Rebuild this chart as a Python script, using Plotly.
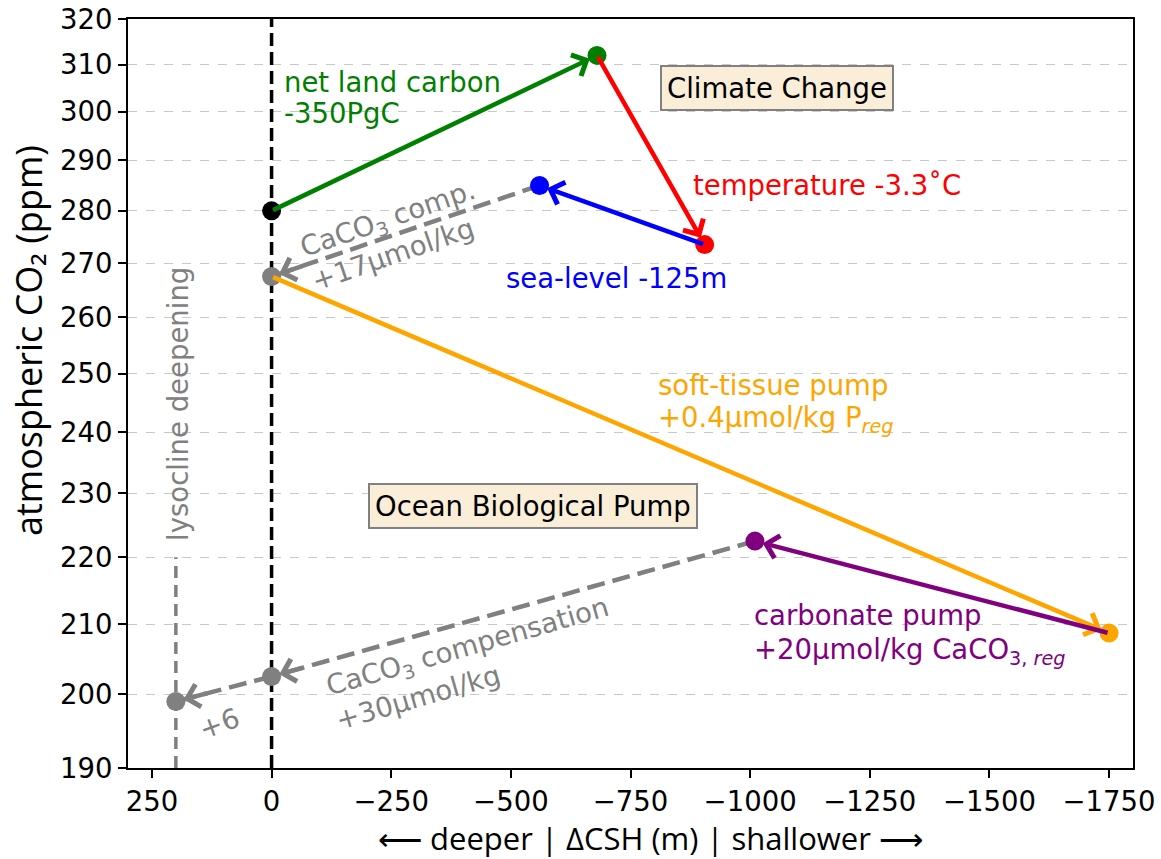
import numpy as np
import plotly.graph_objects as go

# ---------------- data ----------------
pt_x = [0, -680, -905, -560, 0, -1750, -1010, 0, 200]
pt_y = [280, 312, 273.5, 285, 267.5, 208.7, 222.5, 202.5, 199]
pt_colors = ["black", "green", "red", "blue", "gray", "orange", "purple", "gray", "gray"]

arrow_from = [0, 1, 2, 3, 4, 5, 6, 7]
arrow_to = [1, 2, 3, 4, 5, 6, 7, 8]
arrow_colors = ["green", "red", "blue", "gray", "orange", "purple", "gray", "gray"]
arrow_dashed = [False, False, False, True, False, False, True, True]

lyso_x = [200, 200]
lyso_y = [190, 220]
zero_x = [0, 0]
zero_y = [190, 320]

x_ticks = [250, 0, -250, -500, -750, -1000, -1250, -1500, -1750]
x_ticktext = ["250", "0", "−250", "−500", "−750", "−1000", "−1250", "−1500", "−1750"]
y_ticks = [190, 200, 210, 220, 230, 240, 250, 260, 270, 280, 290, 300, 310, 320]
x_range = [300, -1800]
y_range = [190, 320]

# ---------------- layout constants ----------------
W, H = 1161, 859
ML, MR, MT, MB = 128, 28, 19, 91
PW, PH = W - ML - MR, H - MT - MB
FONT = "DejaVu Sans"
LABEL_FONT = "Open Sans"
FS = 27.5

fig = go.Figure()

# vertical reference lines
fig.add_trace(go.Scatter(x=zero_x, y=zero_y, mode="lines",
                         line=dict(color="black", width=3.5, dash="13px,6px"),
                         showlegend=False, hoverinfo="skip"))
fig.add_trace(go.Scatter(x=lyso_x, y=lyso_y, mode="lines",
                         line=dict(color="gray", width=3.5, dash="12px,7px"),
                         showlegend=False, hoverinfo="skip"))

# dashed connecting lines
for f, t, c, d in zip(arrow_from, arrow_to, arrow_colors, arrow_dashed):
    if d:
        fig.add_trace(go.Scatter(x=[pt_x[f], pt_x[t]], y=[pt_y[f], pt_y[t]], mode="lines",
                                 line=dict(color=c, width=4.5, dash="18px,8px"),
                                 showlegend=False, hoverinfo="skip"))

# points
fig.add_trace(go.Scatter(x=pt_x, y=pt_y, mode="markers",
                         marker=dict(size=19, color=pt_colors, line=dict(width=0)),
                         showlegend=False, hoverinfo="skip"))

# pixel scale helpers (from axis ranges)
sx = PW / (x_range[1] - x_range[0])
ly0, ly1 = np.log10(y_range[0]), np.log10(y_range[1])
sy = -PH / (ly1 - ly0)

annotations = []
for f, t, c, d in zip(arrow_from, arrow_to, arrow_colors, arrow_dashed):
    hx, hy = pt_x[t], np.log10(pt_y[t])
    tx, ty = pt_x[f], np.log10(pt_y[f])
    if d:
        dxp = (tx - hx) * sx
        dyp = (ty - hy) * sy
        L = np.hypot(dxp, dyp)
        frac = 34.0 / L
        tx = hx + frac * (tx - hx)
        ty = hy + frac * (ty - hy)
    annotations.append(dict(x=hx, y=hy, ax=tx, ay=ty, xref="x", yref="y", axref="x", ayref="y",
                            showarrow=True, arrowhead=4, arrowsize=1.0, arrowwidth=4.5,
                            arrowcolor=c, standoff=8, text=""))


def txt(x, y, s, color, xanchor="left", angle=0, size=FS, align="left", **kw):
    d = dict(x=x, y=np.log10(y), xref="x", yref="y", text=s, showarrow=False,
             font=dict(family=FONT, size=size, color=color), xanchor=xanchor,
             yanchor="middle", textangle=angle, align=align)
    d.update(kw)
    annotations.append(d)


txt(-22, 306.3, "net land carbon", "green")
txt(-22, 299.8, "-350PgC", "green")
txt(-877, 285.1, "temperature -3.3˚C", "red")
txt(-486, 267.3, "sea-level -125m", "blue")
txt(-804, 248.0, "soft-tissue pump", "orange")
txt(-804, 242.2, "+0.4μmol/kg P<sub><i>reg</i></sub>", "orange")
txt(-1003, 211.3, "carbonate pump", "purple")
txt(-1003, 206.0, "+20μmol/kg CaCO<sub>3, <i>reg</i></sub>", "purple")
txt(-254, 275.3, "CaCO<sub>3</sub> comp.<br>+17μmol/kg", "gray", xanchor="center", angle=-19)
txt(-419, 204.4, "CaCO<sub>3</sub> compensation<br>+30μmol/kg", "gray", xanchor="center", angle=-16)
txt(109, 196.0, "+6", "gray", xanchor="center", angle=-20)
txt(195.5, 244.8, "lysocline deepening", "gray", xanchor="center", angle=-90)

box = dict(bgcolor="#FAEED9", bordercolor="#808080", borderwidth=2, borderpad=5)
txt(-1057, 305.0, "Climate Change", "black", xanchor="center", **box)
txt(-545.7, 228.0, "Ocean Biological Pump", "black", xanchor="center", **box)

# axis titles
annotations.append(dict(x=(650 - ML) / PW, y=-(838 - MT - PH) / PH, xref="paper", yref="paper",
                        text="⟵ deeper | ΔCSH (m) | shallower ⟶", showarrow=False,
                        font=dict(family=LABEL_FONT, size=31, color="black"),
                        xanchor="center", yanchor="middle"))
annotations.append(dict(x=(28 - ML) / PW, y=1 - (341 - MT) / PH, xref="paper", yref="paper",
                        text="atmospheric CO₂ (ppm)", showarrow=False, textangle=-90,
                        font=dict(family=LABEL_FONT, size=36, color="black"),
                        xanchor="center", yanchor="middle"))

fig.update_layout(
    width=W, height=H, margin=dict(l=ML, r=MR, t=MT, b=MB, autoexpand=False),
    paper_bgcolor="white", plot_bgcolor="white",
    annotations=annotations, showlegend=False,
    font=dict(family=FONT, size=FS, color="black"),
)
fig.update_xaxes(range=x_range, tickvals=x_ticks, ticktext=x_ticktext, showgrid=False,
                 automargin=False,
                 zeroline=False, showline=True, linecolor="black", linewidth=2, mirror=True,
                 ticks="outside", ticklen=8, tickwidth=2, tickcolor="black",
                 tickfont=dict(family=FONT, size=FS, color="black"))
fig.update_yaxes(type="log", range=[ly0, ly1], tickvals=y_ticks, ticktext=[str(v) for v in y_ticks],
                 automargin=False,
                 showgrid=True, gridcolor="#c8c8c8", griddash="dash", gridwidth=1,
                 zeroline=False, showline=True, linecolor="black", linewidth=2, mirror=True,
                 ticks="outside", ticklen=8, tickwidth=2, tickcolor="black",
                 tickfont=dict(family=FONT, size=FS, color="black"))

fig.write_html("out.html")
